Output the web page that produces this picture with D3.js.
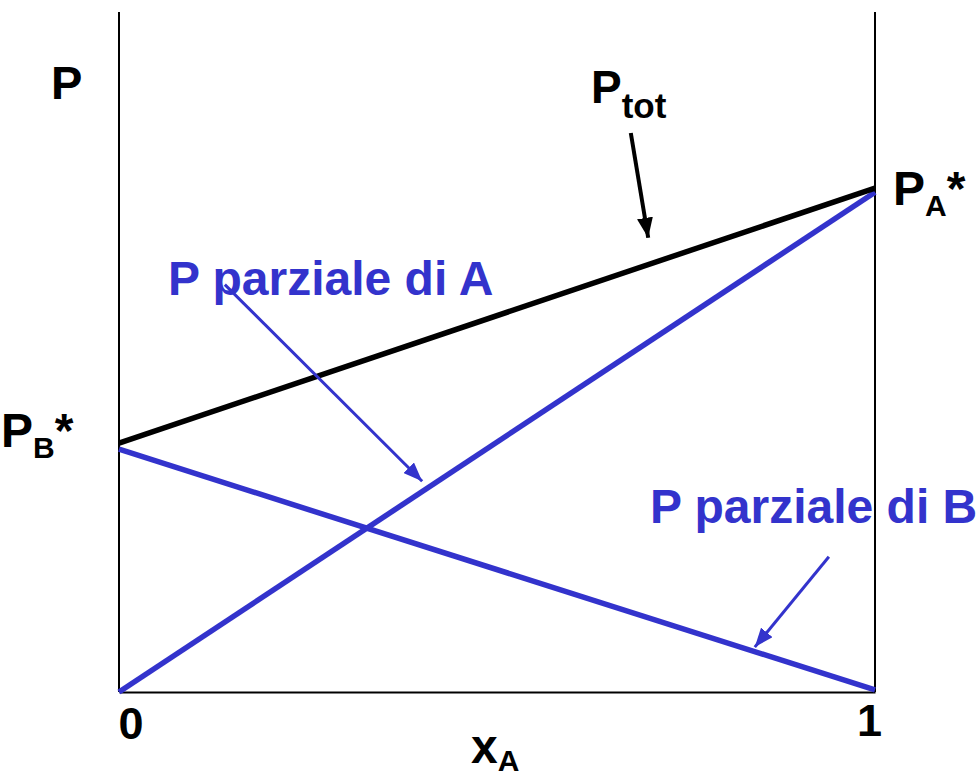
<!DOCTYPE html>
<html>
<head>
<meta charset="utf-8">
<script src="https://cdn.jsdelivr.net/npm/d3@7"></script>
<style>
  body { margin: 0; background: #fff; }
  text { font-family: "Liberation Sans", Arial, sans-serif; font-weight: bold; }
</style>
</head>
<body>
<div id="chart"></div>
<script>
/* data (x = mole fraction of A, y = pressure, fraction of plot height) */
var xTicks = [0, 1];
var pA = [[0, 0], [1, 0.735]];        // P parziale di A
var pB = [[0, 0.357], [1, 0.003]];    // P parziale di B
var pTot = [[0, 0.366], [1, 0.741]];  // P totale

/* annotation arrows, in data units: [from, to] */
var arrowTot = [[0.677, 0.822], [0.700, 0.668]];
var arrowA = [[0.140, 0.599], [0.401, 0.310]];
var arrowB = [[0.939, 0.199], [0.841, 0.066]];

var blue = "#3333cc";

var svg = d3.select("#chart").append("svg").attr("width", 979).attr("height", 777);

var x = d3.scaleLinear().domain([0, 1]).range([119, 875]);
var y = d3.scaleLinear().domain([0, 1]).range([692, 12]);

var defs = svg.append("defs");
function marker(id, color, len, wid) {
	defs.append("marker")
		.attr("id", id)
		.attr("markerUnits", "userSpaceOnUse")
		.attr("viewBox", "0 0 " + len + " " + wid)
		.attr("refX", len).attr("refY", wid / 2)
		.attr("markerWidth", len).attr("markerHeight", wid)
		.attr("orient", "auto")
		.append("path")
		.attr("d", "M0,0L" + len + "," + (wid / 2) + "L0," + wid + "Z")
		.style("fill", color);
}
marker("headBlack", "#000", 20, 16);
marker("headBlue", blue, 19, 15);

/* bottom axis */
var axis = svg.append("g")
	.attr("transform", "translate(0," + y(0) + ")")
	.call(d3.axisBottom(x).tickValues(xTicks).tickSize(0).tickFormat(d3.format("d")));
axis.select(".domain").style("stroke", "#000").style("stroke-width", 2);
axis.selectAll(".tick text")
	.attr("y", 0).attr("dy", 0)
	.style("font-size", "45px")
	.style("font-family", "'Liberation Sans', Arial, sans-serif")
	.style("font-weight", "bold")
	.style("fill", "#000")
	.attr("text-anchor", function(d) { return d == 0 ? "start" : "middle"; })
	.attr("x", function(d) { return d == 0 ? -1 : -6; })
	.attr("transform", function(d) { return d == 0 ? "translate(0,47)" : "translate(0,44)"; });

/* vertical frame lines at x = 0 and x = 1 */
svg.selectAll(".vline").data(xTicks).enter().append("line")
	.attr("class", "vline")
	.attr("x1", function(d) { return x(d); })
	.attr("x2", function(d) { return x(d); })
	.attr("y1", y(0))
	.attr("y2", y(1))
	.style("stroke", "#000")
	.style("stroke-width", 2);

var line = d3.line()
	.x(function(d) { return x(d[0]); })
	.y(function(d) { return y(d[1]); });

svg.append("path").datum(pB).attr("d", line)
	.style("fill", "none").style("stroke", blue).style("stroke-width", 5.5);
svg.append("path").datum(pA).attr("d", line)
	.style("fill", "none").style("stroke", blue).style("stroke-width", 5.5);
svg.append("path").datum(pTot).attr("d", line)
	.style("fill", "none").style("stroke", "#000").style("stroke-width", 5.5);

/* labels */
svg.append("text").attr("x", 51).attr("y", 99)
	.style("font-size", "47px").text("P");

var lt = svg.append("text").attr("x", 591).attr("y", 103).style("font-size", "46px");
lt.append("tspan").text("P");
lt.append("tspan").attr("dy", 15).style("font-size", "35px").text("tot");

var lb = svg.append("text").attr("x", 1).attr("y", 447).style("font-size", "48px");
lb.append("tspan").text("P");
lb.append("tspan").attr("dy", 11).style("font-size", "30px").text("B");
lb.append("tspan").attr("dy", -11).text("*");

var la = svg.append("text").attr("x", 893).attr("y", 205).style("font-size", "48px");
la.append("tspan").text("P");
la.append("tspan").attr("dy", 11).style("font-size", "30px").text("A");
la.append("tspan").attr("dy", -11).text("*");

var lx = svg.append("text").attr("x", 471).attr("y", 763).style("font-size", "48px");
lx.append("tspan").text("x");
lx.append("tspan").attr("dy", 8).style("font-size", "30px").text("A");

svg.append("text").attr("x", 168).attr("y", 295)
	.style("font-size", "48px").style("fill", blue).text("P parziale di A");
svg.append("text").attr("x", 650).attr("y", 523)
	.style("font-size", "48px").style("fill", blue).text("P parziale di B");

/* arrows */
svg.append("path").datum(arrowTot).attr("d", line)
	.style("fill", "none").style("stroke", "#000").style("stroke-width", 4)
	.attr("marker-end", "url(#headBlack)");
svg.append("path").datum(arrowA).attr("d", line)
	.style("fill", "none").style("stroke", blue).style("stroke-width", 3)
	.attr("marker-end", "url(#headBlue)");
svg.append("path").datum(arrowB).attr("d", line)
	.style("fill", "none").style("stroke", blue).style("stroke-width", 3)
	.attr("marker-end", "url(#headBlue)");
</script>
</body>
</html>
